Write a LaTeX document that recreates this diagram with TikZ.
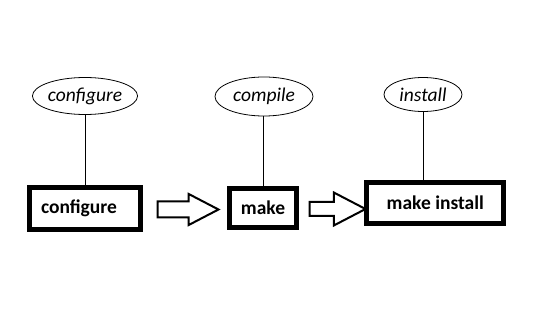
\documentclass[tikz,border=0pt]{standalone}
\usepackage{fontspec}
\setmainfont{Carlito}
\usetikzlibrary{shapes.geometric,shapes.arrows}
\begin{document}
\begin{tikzpicture}[x=1pt,y=-1pt,
    box/.style={draw, line width=5pt, inner sep=0pt, font=\fontsize{19.5}{22}\selectfont\bfseries},
    bubble/.style={draw, ellipse, line width=0.8pt, inner sep=0pt, font=\fontsize{19.5}{22}\selectfont\itshape},
    fatarrow/.style={draw, single arrow, line width=2pt, inner xsep=0pt, single arrow tip angle=55, single arrow head indent=0pt}]
      \useasboundingbox (0,0) rectangle (550,318);
      \node at (85,208.5) [box, minimum width=111pt, minimum height=42pt] (cfg) {configure\hspace*{12pt}};
      \node at (263,208) [box, minimum width=67pt, minimum height=39pt] (mk) {make};
      \node at (435.3,203) [box, minimum width=137pt, minimum height=41pt] (inst) {make install};
      \node at (85,96) [bubble, minimum width=105pt, minimum height=37pt] (ecfg) {configure};
      \node at (264,96.5) [bubble, minimum width=98pt, minimum height=39pt] (emk) {compile};
      \node at (423,94.5) [bubble, minimum width=78pt, minimum height=34pt] (einst) {install};
      \draw[line width=0.8pt] (ecfg.south) -- (ecfg.south |- cfg.north);
      \draw[line width=0.8pt] (mk.north |- emk.south) -- (mk.north);
      \draw[line width=0.8pt] (einst.south) -- (einst.south |- inst.north);
      \node at (cfg.east) [fatarrow, anchor=tail, xshift=13.5pt, yshift=-1pt, minimum height=61pt, inner ysep=7pt, single arrow head extend=7.5pt] (a1) {};
      \node at (mk.east) [fatarrow, anchor=tail, xshift=9.5pt, yshift=-1pt, minimum height=56pt, inner ysep=6pt, single arrow head extend=9.5pt] (a2) {};
\end{tikzpicture}
\end{document}
